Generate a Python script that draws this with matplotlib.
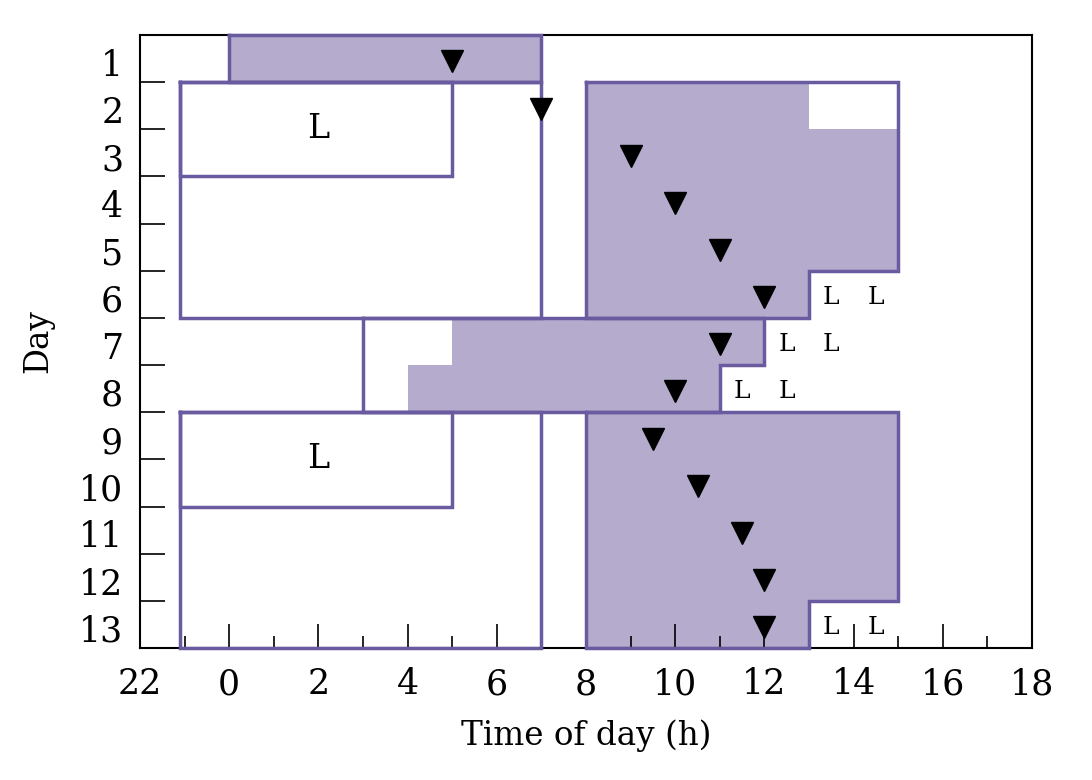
import matplotlib.pyplot as plt
import numpy as np

plt.rcParams['font.family'] = ['DejaVu Serif']

# hours counted from midnight of day 0, so 24 = 0h next day
days = np.arange(1, 14)
shade_start = [24, 32, 32, 32, 32, 32, 29, 28, 32, 32, 32, 32, 32]
shade_end = [31, 37, 39, 39, 39, 37, 36, 35, 39, 39, 39, 39, 37]
marker_times = [29, 31, 33, 34, 35, 36, 35, 34, 33.5, 34.5, 35.5, 36, 36]

# outlined blocks: (first day, start hour, end hour of each row)
block_first_day = [1, 2, 2, 2, 7, 9, 9, 9]
block_start = [24, 22.9, 22.9, 32, 27, 22.9, 22.9, 32]
block_ends = [[31], [31] * 5, [29, 29], [39, 39, 39, 39, 37], [36, 35],
              [31] * 5, [29, 29], [39, 39, 39, 39, 37]]

big_label_x = [26, 26]
big_label_day = [2.5, 9.5]
small_label_day = [6, 6, 7, 7, 8, 8, 13, 13]
small_label_x = [37.5, 38.5, 36.5, 37.5, 35.5, 36.5, 37.5, 38.5]

xticks = np.arange(22, 43, 2)
xtick_labels = [str(h % 24) for h in xticks]

fill_color = '#b4abcd'
edge_color = '#6a5a9f'

fig = plt.figure(figsize=(10.92, 7.8), dpi=100)
ax = fig.add_axes([140 / 1092, 1 - 648 / 780, 892 / 1092, 613 / 780])

# shaded rows
ax.barh(days - 0.5, np.array(shade_end) - np.array(shade_start),
        left=shade_start, height=1.0, color=fill_color, linewidth=0,
        zorder=1)

# step outlines
for d0, x0, ends in zip(block_first_day, block_start, block_ends):
    xs = [x0, ends[0]]
    ys = [d0 - 1, d0 - 1]
    for i, e in enumerate(ends):
        xs += [e, e]
        ys += [d0 - 1 + i, d0 + i]
    xs += [x0, x0]
    ys += [d0 - 1 + len(ends), d0 - 1]
    ax.plot(xs, ys, color=edge_color, linewidth=2.5, zorder=3,
            solid_joinstyle='miter', clip_on=False)

ax.plot(marker_times, days - 0.5 + 0.06, linestyle='none', marker='v',
        markersize=16, color='black', zorder=4)

for x, d in zip(big_label_x, big_label_day):
    ax.text(x, d - 0.5, 'L', fontsize=24, ha='center', va='center')
for x, d in zip(small_label_x, small_label_day):
    ax.text(x, d - 0.5 + 0.07, 'L', fontsize=18, ha='center', va='center')

ax.set_xlim(22, 42)
ax.set_ylim(13, 0)

ax.set_xticks(xticks)
ax.set_xticklabels(xtick_labels)
ax.set_xticks(np.arange(23, 42, 2), minor=True)
ax.set_yticks(days - 0.5 + 0.08)
ax.set_yticklabels([str(d) for d in days])
ax.set_yticks(np.arange(1, 13), minor=True)

ax.tick_params(axis='x', which='major', direction='in', length=17,
               width=1.2, pad=14, labelsize=25)
ax.tick_params(axis='x', which='minor', direction='in', length=8.5,
               width=1.2)
ax.tick_params(axis='y', which='major', length=0, pad=12, labelsize=25)
ax.tick_params(axis='y', which='minor', direction='in', length=18,
               width=1.2)
ax.set_axisbelow(False)
for sp in ax.spines.values():
    sp.set_linewidth(1.5)

ax.set_xlabel('Time of day (h)', fontsize=23.5, labelpad=13)
ax.set_ylabel('Day', fontsize=23.5, labelpad=18)

fig.savefig('out.png', dpi=100)
